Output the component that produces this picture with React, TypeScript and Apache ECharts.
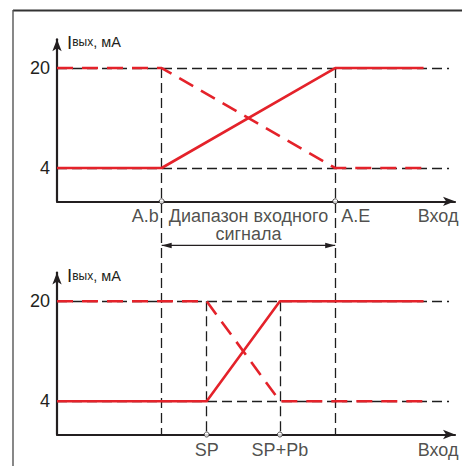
import { useEffect, useRef } from 'react';
import * as echarts from 'echarts';

const FONT = '"Liberation Sans", Arial, Helvetica, sans-serif';
const RED = '#e4222a';
const INK = '#231f20';
const GUIDE = '#1e1e1e';

// ---- data ----
const outputLevels = [4, 20];
const xRange = [0, 100];
const yRange = [-1.33, 24.6];
const topMarkNames = ['A.b', 'A.E'];
const topMarkX = [26.3, 69.9];
const bottomMarkNames = ['SP', 'SP+Pb'];
const bottomMarkX = [37.6, 56.0];
const guideEndX = 98.5;
const directTop = [[0, 4], [26.3, 4], [69.9, 20], [92.1, 20]];
const reverseTop = [[0, 20], [26.3, 20], [69.9, 4], [92.1, 4]];
const directBottom = [[0, 4], [37.6, 4], [56.0, 20], [92.1, 20]];
const reverseBottom = [[0, 20], [37.6, 20], [56.0, 4], [92.1, 4]];
const rangeText = 'Диапазон входного\nсигнала';
const rangeArrowY = -8.4;
const inputName = 'Вход';
const outputName = '{a|I}{b|вых}{c|, мА}';

// ---- layout ----
const LEFT = 57;
const AXIS_W = 398;
const TOP1 = 39.3;
const TOP2 = 272.5;
const PH = 162;

export default function App() {
  const ref = useRef<HTMLDivElement>(null);

  useEffect(() => {
    if (!ref.current) return;
    const chart = echarts.init(ref.current, undefined, { renderer: 'svg' });

    const overlayTop = TOP1 + ((yRange[1] - 20) / (yRange[1] - yRange[0])) * PH;
    const overlayH = TOP2 + PH - overlayTop;

    const grids = [
      { left: LEFT, top: TOP1, width: AXIS_W, height: PH },
      { left: LEFT, top: TOP2, width: AXIS_W, height: PH },
      { left: LEFT, top: overlayTop, width: AXIS_W, height: overlayH },
    ];

    const visibleX = (gi: number) => ({
      type: 'value',
      gridIndex: gi,
      min: xRange[0],
      max: xRange[1],
      axisLine: {
        show: true,
        onZero: false,
        symbol: ['none', 'arrow'],
        symbolSize: [7, 12],
        lineStyle: { color: INK, width: 2.2 },
      },
      axisTick: { show: false },
      axisLabel: { show: false },
      splitLine: { show: false },
    });

    const visibleY = (gi: number) => ({
      type: 'value',
      gridIndex: gi,
      min: yRange[0],
      max: yRange[1],
      axisLine: {
        show: true,
        onZero: false,
        symbol: ['none', 'arrow'],
        symbolSize: [7, 12],
        lineStyle: { color: INK, width: 2.2 },
      },
      axisTick: { show: false },
      axisLabel: {
        show: true,
        customValues: outputLevels,
        fontSize: 18,
        fontFamily: FONT,
        color: INK,
        margin: 7,
      },
      splitLine: { show: false },
    });

    const guideStyle = { color: GUIDE, width: 1.3, opacity: 1, type: [10, 5] as number[] };

    const linesSeries = (gi: number, data: any[]) => ({
      type: 'lines',
      coordinateSystem: 'cartesian2d',
      xAxisIndex: gi,
      yAxisIndex: gi,
      clip: false,
      silent: true,
      z: 1,
      symbol: ['none', 'none'],
      lineStyle: guideStyle,
      data,
    });

    const redLine = (gi: number, data: number[][], dashed: boolean) => ({
      type: 'line',
      xAxisIndex: gi,
      yAxisIndex: gi,
      data,
      symbol: 'none',
      clip: false,
      silent: true,
      z: 3,
      lineStyle: { color: RED, width: 2.6, type: dashed ? [16, 9] : 'solid' },
    });

    const circles = (gi: number, xs: number[]) => ({
      type: 'scatter',
      xAxisIndex: gi,
      yAxisIndex: gi,
      clip: false,
      silent: true,
      z: 6,
      symbol: 'circle',
      symbolSize: 5,
      itemStyle: { color: '#ffffff', borderColor: INK, borderWidth: 1 },
      data: xs.map((x) => [x, yRange[0]]),
    });

    const labelBase = {
      show: true,
      position: 'inside',
      formatter: '{b}',
      fontSize: 18,
      fontFamily: FONT,
      color: INK,
      verticalAlign: 'middle',
    };

    const labels = (gi: number, items: any[]) => ({
      type: 'scatter',
      xAxisIndex: gi,
      yAxisIndex: gi,
      clip: false,
      silent: true,
      z: 7,
      symbolSize: 1,
      itemStyle: { color: 'transparent' },
      label: labelBase,
      data: items,
    });

    const inputLabel = {
      name: inputName,
      value: [xRange[1], yRange[0]],
      label: { align: 'right', offset: [3.5, 15] },
    };

    const series: any[] = [
      // top panel
      linesSeries(
        0,
        outputLevels.map((v) => ({ coords: [[xRange[0], v], [guideEndX, v]] }))
      ),
      redLine(0, reverseTop, true),
      redLine(0, directTop, false),
      circles(0, topMarkX),
      labels(0, [
        { name: topMarkNames[0], value: [topMarkX[0], yRange[0]], label: { align: 'right', offset: [-3, 15] } },
        { name: topMarkNames[1], value: [topMarkX[1], yRange[0]], label: { align: 'left', offset: [6, 15] } },
        {
          name: rangeText,
          value: [(topMarkX[0] + topMarkX[1]) / 2, yRange[0]],
          label: { align: 'center', verticalAlign: 'top', lineHeight: 18, offset: [0, 5.3] },
        },
        inputLabel,
      ]),
      {
        type: 'line',
        xAxisIndex: 0,
        yAxisIndex: 0,
        clip: false,
        silent: true,
        z: 4,
        symbol: 'triangle',
        symbolSize: [5.5, 10],
        showSymbol: true,
        itemStyle: { color: INK },
        lineStyle: { color: INK, width: 1.2 },
        data: [
          { value: [topMarkX[0], rangeArrowY], symbolRotate: 90, symbolOffset: [5, 0] },
          { value: [topMarkX[1], rangeArrowY], symbolRotate: -90, symbolOffset: [-5, 0] },
        ],
      },
      // bottom panel
      linesSeries(
        1,
        outputLevels.map((v) => ({ coords: [[xRange[0], v], [guideEndX, v]] }))
      ),
      linesSeries(
        1,
        bottomMarkX.map((x) => ({ coords: [[x, 20], [x, yRange[0]]] }))
      ),
      redLine(1, reverseBottom, true),
      redLine(1, directBottom, false),
      circles(1, bottomMarkX),
      labels(1, [
        { name: bottomMarkNames[0], value: [bottomMarkX[0], yRange[0]], label: { align: 'center', offset: [0, 15] } },
        { name: bottomMarkNames[1], value: [bottomMarkX[1], yRange[0]], label: { align: 'center', offset: [0, 15] } },
        inputLabel,
      ]),
      // connectors across both panels
      linesSeries(
        2,
        topMarkX.map((x) => ({ coords: [[x, 1], [x, 0]] }))
      ),
    ];

    const nameRich = {
      a: { fontSize: 18.5, fontFamily: FONT, fontWeight: 'normal', color: INK },
      b: { fontSize: 12, fontFamily: FONT, fontWeight: 'normal', color: INK },
      c: { fontSize: 14.5, fontFamily: FONT, fontWeight: 'normal', color: INK },
    };
    const yName = (top: number) => ({
      text: outputName,
      left: 67,
      top: top - 6.5,
      padding: 0,
      textStyle: { fontWeight: 'normal', fontFamily: FONT, color: INK, rich: nameRich },
    });

    chart.setOption({
      animation: false,
      backgroundColor: '#ffffff',
      title: [yName(TOP1), yName(TOP2)],
      grid: grids,
      xAxis: [
        visibleX(0),
        visibleX(1),
        { type: 'value', gridIndex: 2, min: xRange[0], max: xRange[1], show: false },
      ],
      yAxis: [
        visibleY(0),
        visibleY(1),
        { type: 'value', gridIndex: 2, min: 0, max: 1, show: false },
      ],
      series,
      graphic: [
        { type: 'line', shape: { x1: 13, y1: 10.5, x2: 462, y2: 10.5 }, style: { stroke: '#333', lineWidth: 2 } },
        { type: 'line', shape: { x1: 13, y1: 10, x2: 13, y2: 466 }, style: { stroke: '#555', lineWidth: 1.4 } },
      ],
    });

    return () => chart.dispose();
  }, []);

  return (
    <div
      ref={ref}
      style={{ position: 'absolute', left: 0, top: 0, width: 462, height: 466, background: '#fff' }}
    />
  );
}
